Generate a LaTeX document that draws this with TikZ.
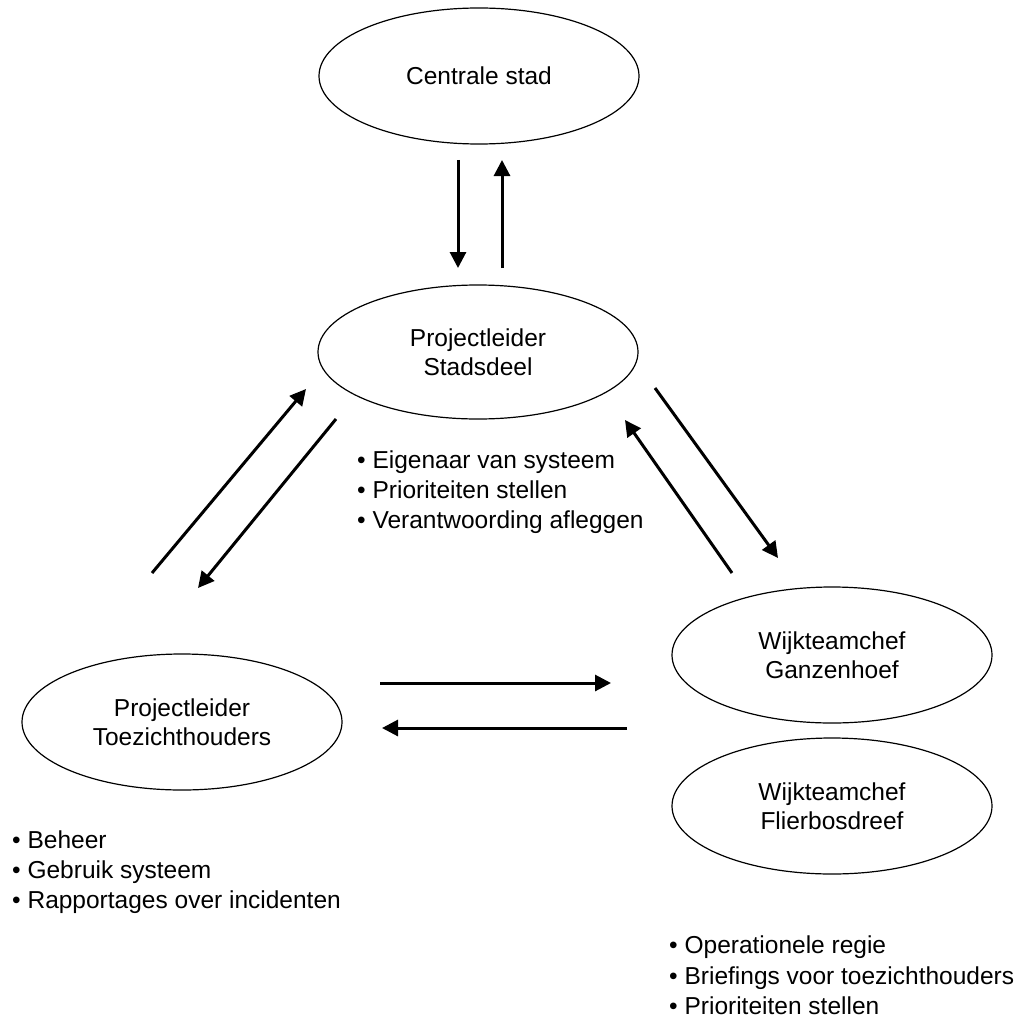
\documentclass[tikz,border=0pt]{standalone}
\usepackage{fontspec}
\setmainfont{Liberation Sans}
\usetikzlibrary{arrows.meta,shapes.geometric}
\begin{document}
\begin{tikzpicture}[x=1pt,y=-1pt,
  oval/.style={draw, line width=1.2pt, ellipse, minimum width=320pt, minimum height=136pt, inner sep=0pt, align=center, font=\fontsize{24.5}{29.5}\selectfont},
  flow/.style={line width=3pt, -{Triangle[length=16pt,width=16pt]}},
  item/.style={anchor=base west, inner sep=0pt, font=\fontsize{24.5}{29.5}\selectfont}]
\useasboundingbox (0,0) rectangle (1024,1019);

% ellipses
\node[oval] (cs) at (479,76) {Centrale stad};
\node[oval, minimum height=134pt] (ps) at (478,352) {Projectleider\\Stadsdeel};
\node[oval] (pt) at (182,722) {Projectleider\\Toezichthouders};
\node[oval] (wg) at (832,655) {Wijkteamchef\\Ganzenhoef};
\node[oval] (wf) at (832,806) {Wijkteamchef\\Flierbosdreef};

% arrow end points
\coordinate (a1s) at (458,160); \coordinate (a1e) at (458,268);
\coordinate (a2s) at (502,268); \coordinate (a2e) at (502,160);
\coordinate (a3s) at (152,573); \coordinate (a3e) at (306,389);
\coordinate (a4s) at (336,419); \coordinate (a4e) at (198,588);
\coordinate (a5s) at (655,388); \coordinate (a5e) at (778,558);
\coordinate (a6s) at (732,573); \coordinate (a6e) at (625,420);
\coordinate (a7s) at (380,683); \coordinate (a7e) at (611,683);
\coordinate (a8s) at (627,728); \coordinate (a8e) at (382,728);

\draw[flow] (a1s) -- (a1e);
\draw[flow] (a2s) -- (a2e);
\draw[flow] (a3s) -- (a3e);
\draw[flow] (a4s) -- (a4e);
\draw[flow] (a5s) -- (a5e);
\draw[flow] (a6s) -- (a6e);
\draw[flow] (a7s) -- (a7e);
\draw[flow] (a8s) -- (a8e);

% bullet lists
\node[item] (l1a) at (357,468) {• Eigenaar van systeem};
\node[item] (l1b) at (357,498) {• Prioriteiten stellen};
\node[item] (l1c) at (357,528) {• Verantwoording afleggen};

\node[item] (l2a) at (12,848) {• Beheer};
\node[item] (l2b) at (12,878) {• Gebruik systeem};
\node[item] (l2c) at (12,908) {• Rapportages over incidenten};

\node[item] (l3a) at (669,953) {• Operationele regie};
\node[item] (l3b) at (669,984) {• Briefings voor toezichthouders};
\node[item] (l3c) at (669,1014) {• Prioriteiten stellen};
\end{tikzpicture}
\end{document}
